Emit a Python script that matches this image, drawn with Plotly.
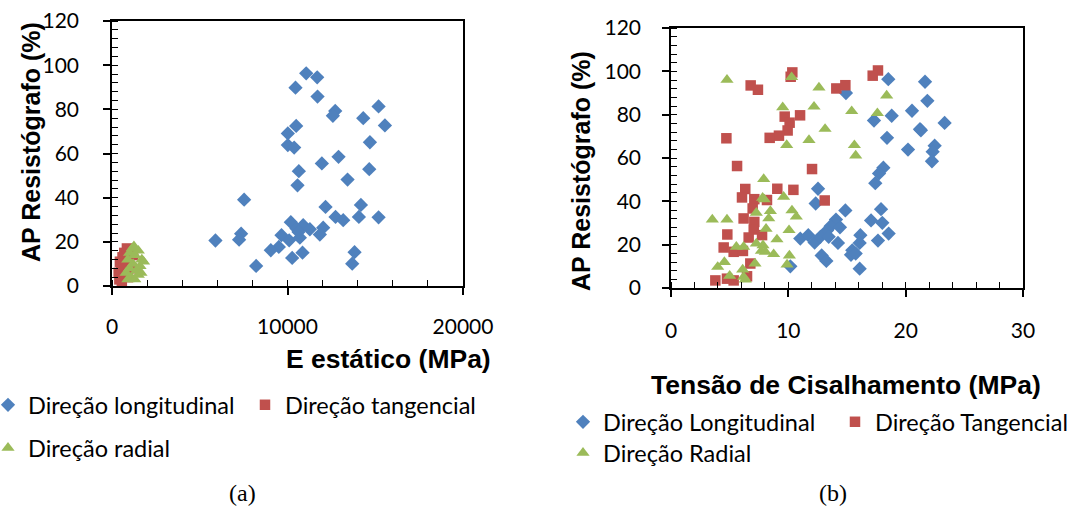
import plotly.graph_objects as go

# ---------------- (a) AP Resistógrafo x E estático ----------------
e_long = [11065, 11692, 10456, 11711, 12719, 12586, 15190, 14316, 15551, 10494,
          10019, 10019, 10380, 14696, 12909, 11958, 10646, 14658, 13422, 10570,
          7529, 12167, 14183, 12738, 13175, 14068, 15190, 10190, 10894, 10513,
          11274, 12034, 11844, 9658, 7357, 7243, 5894, 10095, 10703, 9506,
          9049, 10266, 10856, 8213, 13821, 13688, 10627]
ap_long_a = [96.3, 94.5, 89.8, 85.8, 79.3, 77.1, 81.3, 76.0, 72.7, 72.5,
             69.1, 63.8, 62.7, 65.1, 58.5, 55.5, 52.0, 52.9, 48.2, 45.6,
             39.1, 35.8, 36.7, 31.3, 29.8, 31.3, 31.1, 28.9, 27.5, 26.0,
             25.7, 26.4, 23.3, 23.0, 23.7, 21.0, 20.6, 20.7, 21.9, 17.7,
             16.2, 12.7, 15.1, 9.1, 15.3, 10.1, 24.5]

e_tang = [420, 480, 520, 450, 600, 700, 850, 1050, 650, 900,
          560, 750, 1200, 1100, 380]
ap_tang_a = [3, 5, 8, 11, 13, 15, 17, 16, 6, 4,
             2, 10, 14, 8, 6]

e_rad = [900, 1100, 1300, 1500, 800, 1000, 1200, 1400, 1600, 1700,
         1300, 1150, 1000, 900, 1500, 1800, 1250, 1650]
ap_rad_a = [3, 4, 3, 5, 6, 8, 10, 7, 9, 12,
            14, 17, 15, 12, 16, 11, 18, 6]

# ---------------- (b) AP Resistógrafo x Tensão de Cisalhamento ----------------
t_long = [18.52, 21.65, 14.91, 21.85, 18.81, 20.54, 17.30, 23.32, 21.22, 21.30,
          18.41, 22.47, 22.30, 20.20, 22.24, 18.10, 17.73, 17.41, 12.53, 12.33,
          14.86, 17.90, 14.06, 13.60, 13.30, 14.40, 17.05, 18.01, 18.55, 16.14,
          17.64, 11.02, 11.70, 12.24, 12.73, 13.44, 14.23, 16.08, 15.45, 15.34,
          15.74, 12.84, 13.24, 16.08, 10.17]
ap_long_b = [96.4, 95.2, 90.0, 86.4, 79.5, 81.8, 77.3, 76.2, 73.3, 72.8,
             69.3, 65.7, 62.9, 63.9, 58.5, 55.5, 52.9, 48.4, 45.8, 39.0,
             35.8, 36.4, 31.6, 28.5, 26.5, 28.0, 31.2, 30.1, 25.1, 24.4,
             21.9, 22.8, 24.4, 21.0, 23.6, 23.6, 20.8, 20.8, 17.4, 15.3,
             15.9, 15.0, 12.5, 8.9, 10.0]

t_tang = [10.34, 10.20, 17.64, 17.19, 6.79, 7.41, 14.09, 14.86, 11.00, 9.69,
          10.11, 9.94, 9.20, 8.41, 4.72, 5.63, 12.02, 6.33, 9.06, 10.43,
          6.05, 7.10, 8.18, 13.10, 6.96, 6.19, 7.10, 7.05, 4.80, 6.62,
          7.76, 4.49, 5.34, 6.13, 6.76, 3.78, 4.77, 5.34, 6.48]
ap_tang_b = [99.5, 97.5, 100.4, 98.0, 93.5, 91.5, 92.1, 93.6, 79.7, 79.1,
             76.3, 72.7, 70.3, 69.3, 69.1, 56.3, 54.9, 45.7, 45.8, 45.3,
             41.8, 41.0, 40.6, 40.4, 36.7, 32.1, 30.5, 27.0, 24.7, 23.3,
             24.4, 18.7, 16.7, 17.1, 11.3, 3.5, 4.3, 3.5, 5.4]

t_rad = [4.77, 10.28, 12.61, 9.52, 12.19, 15.40, 17.59, 18.38, 13.13, 11.76,
         9.86, 15.63, 15.74, 7.90, 7.81, 7.95, 9.60, 10.31, 10.68, 8.47,
         8.33, 7.27, 3.52, 4.77, 8.10, 10.06, 9.03, 7.27, 5.57, 6.19,
         7.84, 7.70, 8.04, 8.75, 10.09, 9.89, 7.16, 3.98, 4.55, 5.00,
         6.11, 6.19, 6.33]
ap_rad_b = [96.1, 97.3, 92.5, 83.4, 83.7, 81.6, 80.7, 88.8, 73.4, 68.3,
            66.0, 65.9, 61.1, 50.3, 41.6, 40.9, 42.1, 35.8, 32.9, 35.5,
            32.1, 34.7, 31.6, 31.6, 27.3, 26.7, 22.4, 20.5, 19.0, 19.0,
            19.7, 17.1, 16.7, 15.6, 15.0, 10.8, 11.3, 9.7, 12.0, 5.6,
            8.5, 5.1, 3.9]

names_a = ["Direção longitudinal", "Direção tangencial", "Direção radial"]
names_b = ["Direção Longitudinal", "Direção Tangencial", "Direção Radial"]
y_ticks = [0, 20, 40, 60, 80, 100, 120]

BLUE, RED, GREEN = "#4F81BD", "#C0504D", "#9BBB59"
W, H = 1077, 508


def px(x):
    return x / W


def py(y):
    return 1 - y / H


fig = go.Figure()

D_SIZE, S_SIZE, T_SIZE = 11, 10.5, 11.5
series_a = [(e_long, ap_long_a, names_a[0], BLUE, "diamond", D_SIZE, "legend"),
            (e_tang, ap_tang_a, names_a[1], RED, "square", S_SIZE, "legend"),
            (e_rad, ap_rad_a, names_a[2], GREEN, "triangle-up", T_SIZE, "legend2")]
series_b = [(t_long, ap_long_b, names_b[0], BLUE, "diamond", D_SIZE, "legend3"),
            (t_tang, ap_tang_b, names_b[1], RED, "square", S_SIZE, "legend3"),
            (t_rad, ap_rad_b, names_b[2], GREEN, "triangle-up", T_SIZE, "legend4")]

for xs, ys, nm, col, sym, sz, lg in series_a:
    fig.add_trace(go.Scatter(x=xs, y=ys, mode="markers", name=nm, legend=lg,
                             marker=dict(color=col, symbol=sym, size=sz, line=dict(width=0)),
                             xaxis="x", yaxis="y"))
for xs, ys, nm, col, sym, sz, lg in series_b:
    fig.add_trace(go.Scatter(x=xs, y=ys, mode="markers", name=nm, legend=lg,
                             marker=dict(color=col, symbol=sym, size=sz, line=dict(width=0)),
                             xaxis="x2", yaxis="y2"))

tick_font = dict(family="Lato", size=21, color="black")
axis_common = dict(showline=True, linecolor="black", linewidth=1.6, mirror=True,
                   showgrid=False, zeroline=False, ticks="outside", ticklen=7,
                   tickwidth=1.6, tickcolor="black", tickfont=tick_font)
minor_common = dict(ticks="inside", ticklen=6, tickwidth=1.4, tickcolor="black")
cross_common = dict(ticks="inside", ticklen=7, tickwidth=1.6, tickcolor="black",
                    showticklabels=False, showline=False, showgrid=False, zeroline=False)

dom_a_x = [px(112), px(463)]
dom_a_y = [py(286), py(21)]
dom_b_x = [px(671), px(1023)]
dom_b_y = [py(288), py(28)]

fig.update_layout(
    width=W, height=H, margin=dict(l=0, r=0, t=0, b=0, autoexpand=False),
    paper_bgcolor="white", plot_bgcolor="white",
    xaxis=dict(domain=dom_a_x, anchor="y", range=[0, 20000], dtick=10000, tickformat="d",
               minor=dict(dtick=2000, **minor_common), ticklabelstandoff=14, **axis_common),
    yaxis=dict(domain=dom_a_y, anchor="x", range=[0, 120], tickvals=y_ticks,
               minor=dict(dtick=4, **minor_common), ticklabelstandoff=20, **axis_common),
    xaxis2=dict(domain=dom_b_x, anchor="y2", range=[0, 30], dtick=10,
                minor=dict(dtick=2, **minor_common), ticklabelstandoff=16, **axis_common),
    yaxis2=dict(domain=dom_b_y, anchor="x2", range=[0, 120], tickvals=y_ticks,
                minor=dict(dtick=4, **minor_common), ticklabelstandoff=17, **axis_common),
    # inner half of the crossing major ticks
    xaxis3=dict(overlaying="x", anchor="y", range=[0, 20000], dtick=10000, **cross_common),
    yaxis3=dict(overlaying="y", anchor="x", range=[0, 120], tickvals=y_ticks, **cross_common),
    xaxis4=dict(overlaying="x2", anchor="y2", range=[0, 30], dtick=10, **cross_common),
    yaxis4=dict(overlaying="y2", anchor="x2", range=[0, 120], tickvals=y_ticks, **cross_common),
    showlegend=True,
)

legend_style = dict(orientation="h", xref="paper", yref="paper", xanchor="left",
                    yanchor="middle", bgcolor="rgba(0,0,0,0)", borderwidth=0,
                    font=dict(family="Lato", size=23.5, color="black"),
                    itemclick=False, itemdoubleclick=False)
fig.update_layout(
    legend=dict(x=px(-12), y=py(405), entrywidth=212, **legend_style),
    legend2=dict(x=px(-12), y=py(448), **legend_style),
    legend3=dict(x=px(563), y=py(422), entrywidth=227, **legend_style),
    legend4=dict(x=px(563), y=py(453), **legend_style),
)

title_font = dict(family="Liberation Sans", size=25, color="black")
title_font_h = dict(family="Liberation Sans", size=26.5, color="black")
serif_font = dict(family="Liberation Serif", size=24, color="black")
annotations = [
    dict(text="<b>AP Resistógrafo (%)</b>", x=px(31), y=py(142), textangle=-90, font=title_font),
    dict(text="<b>AP Resistógrafo (%)</b>", x=px(581), y=py(171), textangle=-90, font=title_font),
    dict(text="<b>E estático (MPa)</b>", x=px(388), y=py(359), font=title_font_h),
    dict(text="<b>Tensão de Cisalhamento (MPa)</b>", x=px(846), y=py(385), font=title_font_h),
    dict(text="(a)", x=px(242), y=py(493), font=serif_font),
    dict(text="(b)", x=px(833), y=py(493), font=serif_font),
]
for a in annotations:
    a.update(xref="paper", yref="paper", showarrow=False, xanchor="center", yanchor="middle")
fig.update_layout(annotations=annotations)

fig.write_html("out.html")
